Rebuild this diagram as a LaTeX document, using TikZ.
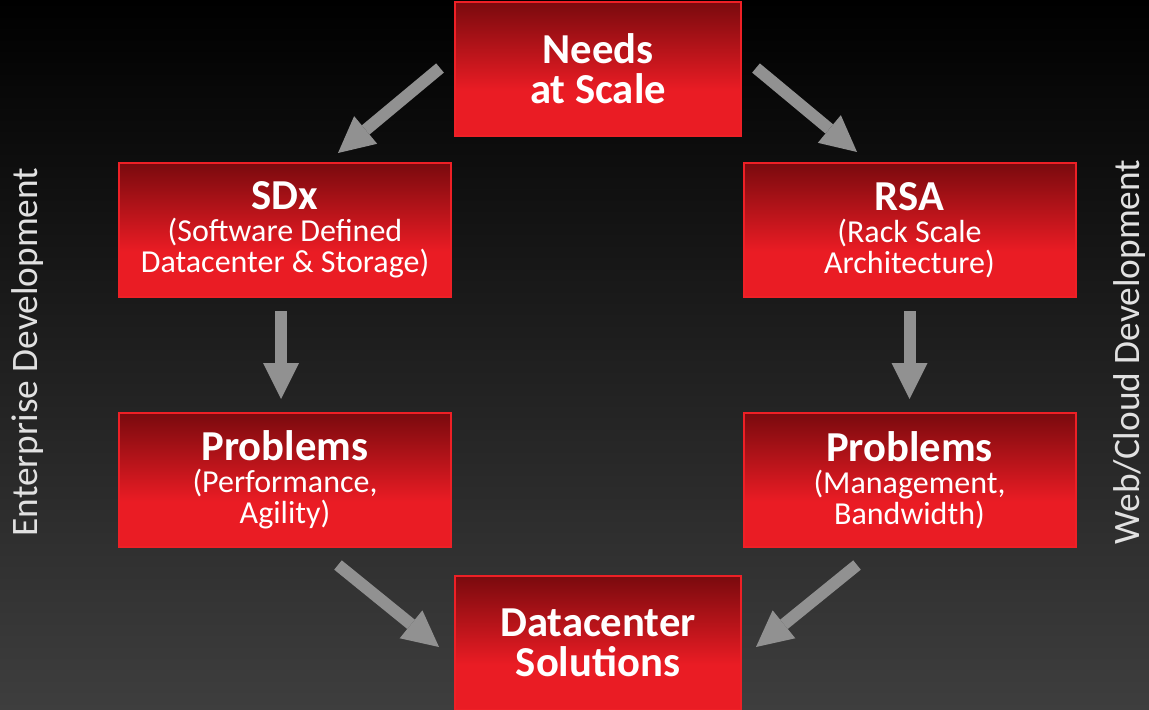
\documentclass[tikz,border=0pt]{standalone}
\usepackage{fontspec}
\setmainfont{Carlito}
\usetikzlibrary{positioning,arrows.meta}

\definecolor{boxtop}{RGB}{122,10,14}
\definecolor{boxbot}{RGB}{234,28,36}
\definecolor{boxline}{RGB}{238,32,38}
\definecolor{arrgray}{RGB}{145,145,145}
\definecolor{bgbot}{RGB}{62,62,62}
\definecolor{sidetxt}{RGB}{225,225,225}

\pgfdeclareverticalshading{redbox}{100bp}{color(0bp)=(boxbot); color(25bp)=(boxbot);
  color(42bp)=(boxbot); color(75bp)=(boxtop); color(100bp)=(boxtop)}

\newcommand{\hdfont}{\fontsize{32}{30}\selectfont\bfseries}
\newcommand{\subfont}{\fontsize{24}{23.25}\selectfont}
\newcommand{\hd}[1]{{\hdfont #1}}

\begin{document}
\begin{tikzpicture}[
  x=0.75pt, y=-0.75pt,
  box/.style={draw=boxline, line width=1.5pt, shading=redbox, text=white,
              align=center, inner sep=0pt, font=\subfont,
              minimum width=249pt, minimum height=100.5pt},
  smallbox/.style={box, font=\hdfont, minimum width=214.5pt},
  arr/.style={arrgray, line width=9pt,
              -{Triangle[length=27pt, width=27pt, line width=0pt]}},
  side/.style={text=sidetxt, font=\fontsize{28}{30}\selectfont,
               rotate=90, inner sep=0pt}
]
\useasboundingbox (0,0) rectangle (1149,710);
\shade[top color=black, bottom color=bgbot] (0,0) rectangle (1149,710);

\node[smallbox] (needs) at (598,69) {Needs\\at Scale};
\node[box] (sdx) at (285,230) {\hd{SDx}\\[1pt](Software Defined\\Datacenter \& Storage)};
\node[box] (rsa) at (909.5,230) {\hd{RSA}\\[1pt](Rack Scale\\Architecture)};
\node[box, below=85.5pt of sdx] (probl) {\hd{Problems}\\[1pt](Performance,\\Agility)};
\node[box, below=85.5pt of rsa] (probr) {\hd{Problems}\\[1pt](Management,\\Bandwidth)};
\node[smallbox] (dc) at (598,643) {Datacenter\\Solutions};

\node[side] (ent) at (28,352) {Enterprise Development};
\node[side] (web) at (1130,352) {Web/Cloud Development};

\draw[arr] ([shift={(-14,-1)}]needs.west) -- ([shift={(53,-9)}]sdx.north);
\draw[arr] ([shift={(14,-1)}]needs.east) -- ([shift={(-52.5,-10)}]rsa.north);
\draw[arr] ([shift={(-4,13)}]sdx.south) -- ([shift={(-4,-13)}]probl.north);
\draw[arr] ([shift={(0,13)}]rsa.south) -- ([shift={(0,-13)}]probr.north);
\draw[arr] ([shift={(53,17)}]probl.south) -- ([shift={(-15,4)}]dc.west);
\draw[arr] ([shift={(-52.5,17)}]probr.south) -- ([shift={(14,4)}]dc.east);
\end{tikzpicture}
\end{document}
